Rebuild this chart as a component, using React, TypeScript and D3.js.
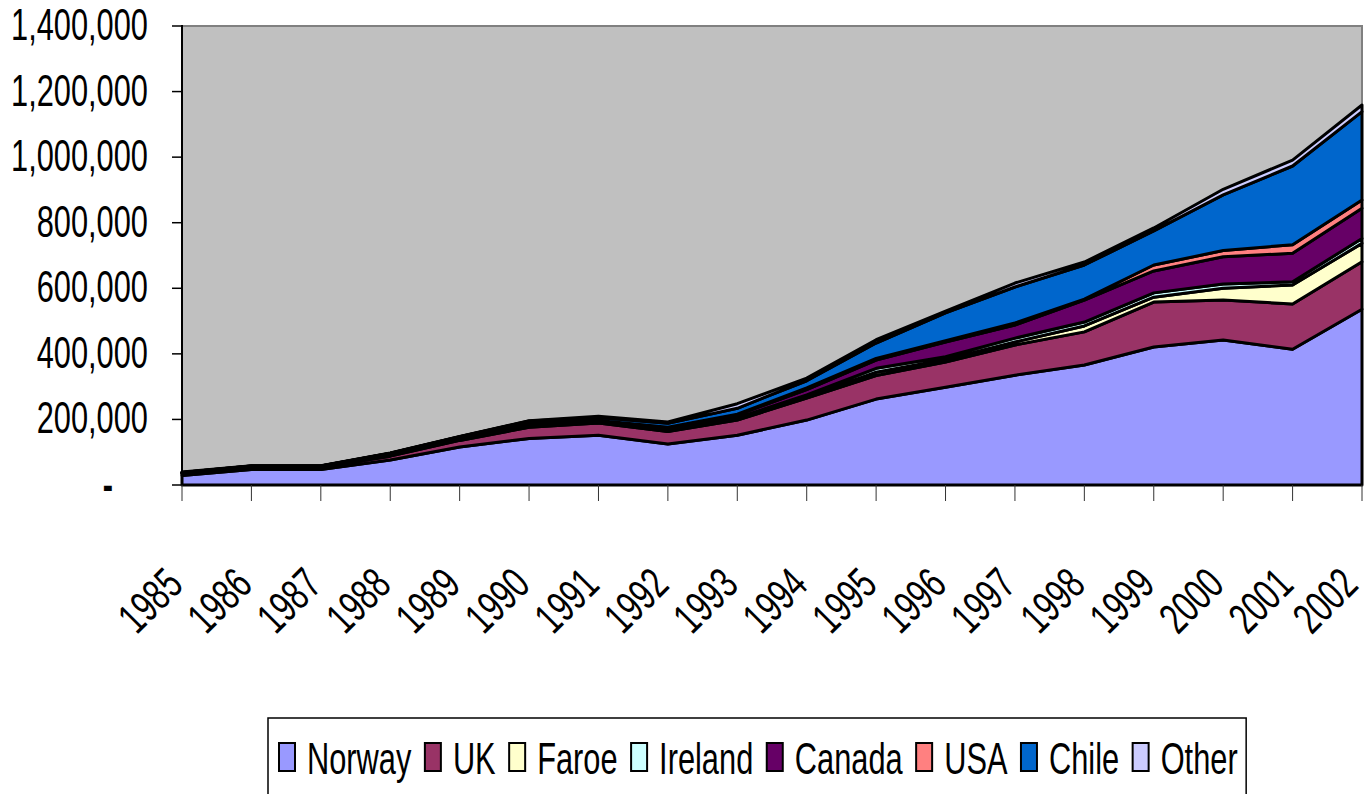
import React, { useEffect, useRef } from 'react';
import * as d3 from 'd3';

// salmon production by country, tonnes
const years = [1985, 1986, 1987, 1988, 1989, 1990, 1991, 1992, 1993, 1994, 1995, 1996, 1997, 1998, 1999, 2000, 2001, 2002];
const norway = [29000, 47000, 47000, 76000, 116000, 142000, 152000, 125000, 152000, 198000, 262000, 298000, 335000, 366000, 421000, 442000, 414000, 536000];
const uk = [5000, 7000, 7000, 12000, 20000, 34000, 37000, 38000, 46000, 67000, 72000, 77000, 92000, 101000, 137000, 122000, 138000, 145000];
const faroe = [2000, 2000, 2000, 3000, 3000, 5000, 2000, 2000, 3000, 4000, 10000, 8000, 9000, 18000, 15000, 36000, 58000, 56000];
const ireland = [1000, 1000, 1000, 3000, 4000, 5000, 2000, 3000, 4000, 6000, 12000, 8000, 12000, 12000, 13000, 13000, 10000, 15000];
const canada = [1000, 1000, 1000, 2000, 3000, 6000, 3000, 6000, 9000, 16000, 25000, 45000, 40000, 67000, 67000, 83000, 87000, 92000];
const usa = [0, 0, 0, 1000, 1000, 2000, 1000, 2000, 2000, 5000, 5000, 4000, 6000, 3000, 18000, 19000, 26000, 25000];
const chile = [0, 0, 0, 0, 0, 1000, 9000, 12000, 18000, 22000, 47000, 85000, 110000, 104000, 104000, 170000, 240000, 270000];
const other = [2000, 1000, 1000, 1000, 1000, 1000, 4000, 4000, 14000, 8000, 10000, 5000, 12000, 9000, 9000, 17000, 18000, 20000];

const seriesNames = ['Norway', 'UK', 'Faroe', 'Ireland', 'Canada', 'USA', 'Chile', 'Other'];
const seriesValues = [norway, uk, faroe, ireland, canada, usa, chile, other];
const seriesColors = ['#9999FF', '#993366', '#FFFFCC', '#CCFFFF', '#660066', '#FF8080', '#0066CC', '#CCCCFF'];
const yTicks = [0, 200000, 400000, 600000, 800000, 1000000, 1200000, 1400000];

const FONT = '"Liberation Sans", Arial, sans-serif';
const SQUEEZE = 0.7;

export default function App() {
  const svgRef = useRef<SVGSVGElement>(null);

  useEffect(() => {
    const svg = d3.select(svgRef.current);
    svg.selectAll('*').remove();

    const left = 182, right = 1362, top = 26, bottom = 485;

    const x = d3.scalePoint<number>().domain(years).range([left, right]);
    const y = d3.scaleLinear().domain([0, 1400000]).range([bottom, top]);

    const rows = years.map((yr, i) => {
      const r: any = { year: yr };
      seriesNames.forEach((n, k) => { r[n] = seriesValues[k][i]; });
      return r;
    });
    const stacked = d3.stack<any>().keys(seriesNames)(rows);

    // plot background
    svg.append('rect')
      .attr('x', left).attr('y', top)
      .attr('width', right - left).attr('height', bottom - top)
      .attr('fill', '#C0C0C0')
      .attr('stroke', '#808080')
      .attr('stroke-width', 2);

    const area = d3.area<any>()
      .x(d => x(d.data.year) as number)
      .y0(d => y(d[0]))
      .y1(d => y(d[1]));

    svg.append('g')
      .selectAll('path')
      .data(stacked)
      .enter()
      .append('path')
      .attr('d', area)
      .attr('fill', (d, i) => seriesColors[i])
      .attr('stroke', '#000')
      .attr('stroke-width', 3)
      .attr('stroke-linejoin', 'round');

    // y axis
    svg.append('line')
      .attr('x1', left).attr('x2', left)
      .attr('y1', top - 1).attr('y2', bottom)
      .attr('stroke', '#000').attr('stroke-width', 2);

    yTicks.forEach(t => {
      svg.append('line')
        .attr('x1', left - 10).attr('x2', left)
        .attr('y1', y(t)).attr('y2', y(t))
        .attr('stroke', '#000').attr('stroke-width', 1.5);
      if (t === 0) {
        svg.append('text')
          .attr('transform', `translate(108, ${y(t) + 15}) scale(${SQUEEZE},1)`)
          .attr('text-anchor', 'middle')
          .style('font-family', FONT)
          .style('font-size', '44px')
          .style('font-weight', 'bold')
          .text('-');
      } else {
        svg.append('text')
          .attr('transform', `translate(148, ${y(t) + 14}) scale(${SQUEEZE},1)`)
          .attr('text-anchor', 'end')
          .style('font-family', FONT)
          .style('font-size', '44px')
          .text(d3.format(',')(t));
      }
    });

    // x axis
    svg.append('line')
      .attr('x1', left).attr('x2', right)
      .attr('y1', bottom).attr('y2', bottom)
      .attr('stroke', '#000').attr('stroke-width', 2);

    years.forEach(yr => {
      const px = x(yr) as number;
      svg.append('line')
        .attr('x1', px).attr('x2', px)
        .attr('y1', bottom).attr('y2', bottom + 16)
        .attr('stroke', '#333').attr('stroke-width', 1);
      svg.append('text')
        .attr('transform', `translate(${Math.min(px + 3, 1360)}, 587) rotate(-45) scale(${SQUEEZE},1)`)
        .attr('text-anchor', 'end')
        .style('font-family', FONT)
        .style('font-size', '44px')
        .text(yr);
    });

    // legend
    const legend = svg.append('g');
    let cx = 279;
    seriesNames.forEach((name, i) => {
      legend.append('rect')
        .attr('x', cx).attr('y', 743)
        .attr('width', 16).attr('height', 28)
        .attr('fill', seriesColors[i])
        .attr('stroke', '#000').attr('stroke-width', 2);
      const tx = cx + 28;
      const txt = legend.append('text')
        .attr('transform', `translate(${tx}, 774) scale(${SQUEEZE},1)`)
        .style('font-family', FONT)
        .style('font-size', '44px')
        .text(name);
      const w = (txt.node() as SVGTextElement).getComputedTextLength() * SQUEEZE;
      cx = tx + w + 13.5;
    });
    legend.insert('rect', ':first-child')
      .attr('x', 268).attr('y', 718)
      .attr('width', cx - 5 - 268).attr('height', 120)
      .attr('fill', '#fff')
      .attr('stroke', '#000').attr('stroke-width', 1.5);
  }, []);

  return (
    <svg
      ref={svgRef}
      width={1365}
      height={794}
      style={{ position: 'absolute', left: 0, top: 0, background: '#fff' }}
    />
  );
}
